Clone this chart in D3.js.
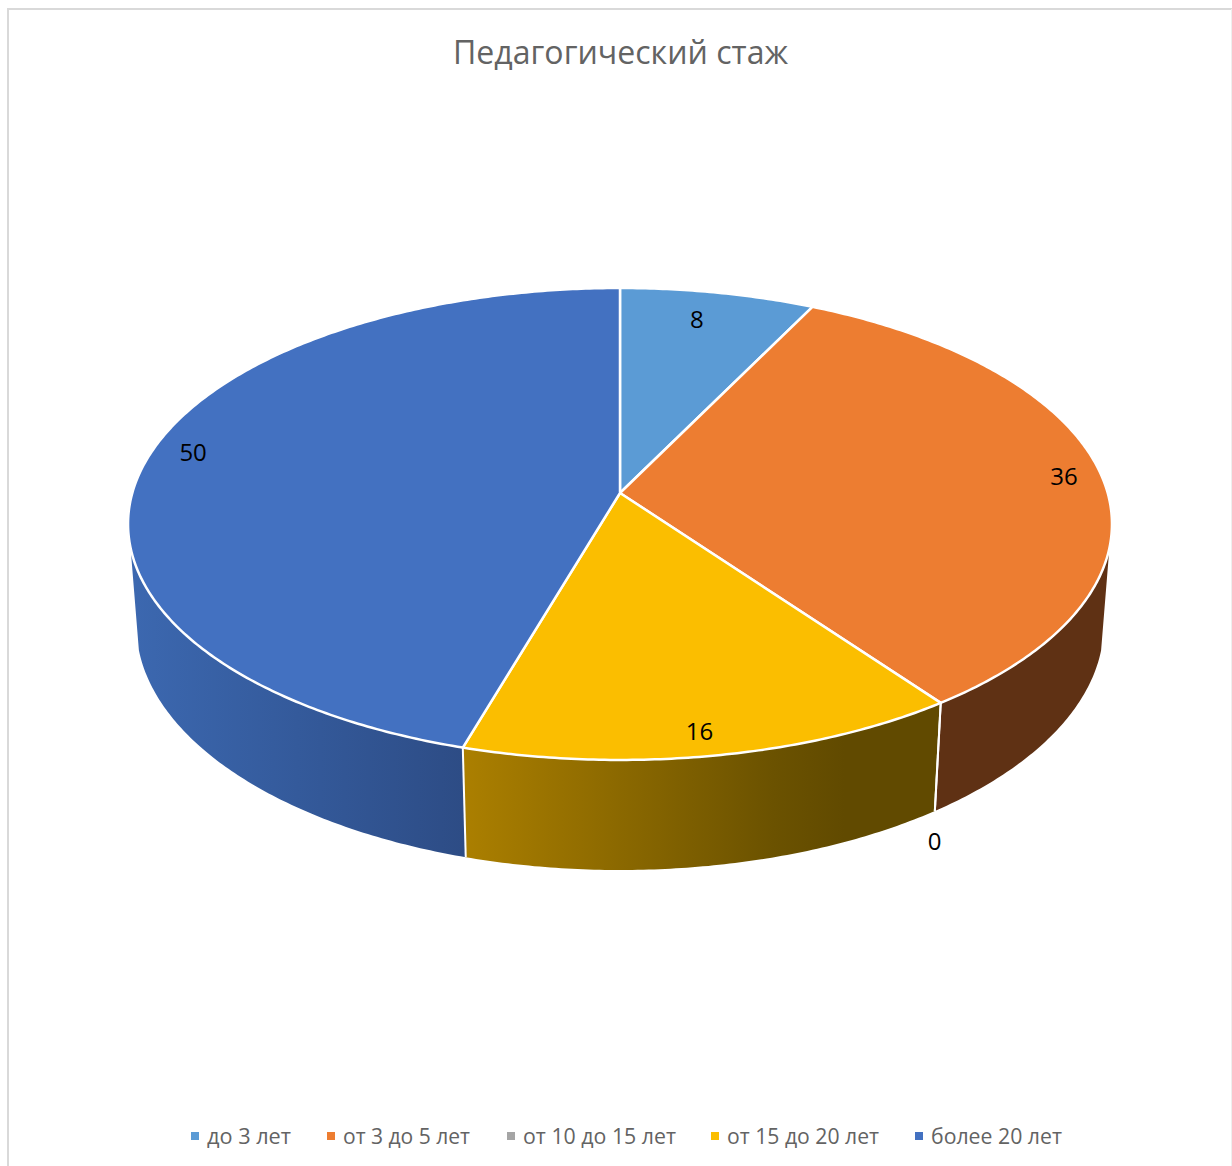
<!DOCTYPE html>
<html lang="ru">
<head>
<meta charset="utf-8">
<title>Педагогический стаж</title>
<script src="https://cdn.jsdelivr.net/npm/d3@7/dist/d3.min.js"></script>
<style>
    body { margin: 0; background: #fff; }
    svg { display: block; }
    text { font-family: "Open Sans", sans-serif; }
</style>
</head>
<body>
<svg id="chart" width="1232" height="1166"></svg>
<script>
var chartTitle = "Педагогический стаж";
var categories = ["до 3 лет", "от 3 до 5 лет", "от 10 до 15 лет", "от 15 до 20 лет", "более 20 лет"];
var values = [8, 36, 0, 16, 50];
var topColors = ["#5b9bd5", "#ed7d31", "#a5a5a5", "#fbbe00", "#4371c1"];

var svg = d3.select("#chart");
var defs = svg.append("defs");

// perspective of the disc, fitted by eye on the picture
var centerX = 620, centerY = 493;
var scaleU = 487.7, scaleV = 231.9;
var tilt = 0.1313;
var depthY = 101.9, depthW = 0.0167;
// the side wall only shows between these two angles
var frontStart = 103.3 * Math.PI / 180, frontEnd = 256.7 * Math.PI / 180;

function project(angle, z) {
    var u = Math.sin(angle), v = -Math.cos(angle);
    var d = 1 - tilt * v + depthW * z;
    return [centerX + scaleU * u / d, centerY + (scaleV * v + depthY * z) / d];
}

function arcPoints(a0, a1, z) {
    var n = Math.max(1, Math.ceil((a1 - a0) / 0.01));
    return d3.range(n + 1).map(function(i) {
        return project(a0 + (a1 - a0) * i / n, z);
    });
}

var line = d3.line();
var slices = d3.pie().sort(null).value(function(d) { return d; })(values);

// frame
svg.append("path").attr("d", "M8,1166V9H1232").attr("fill", "none").attr("stroke", "#d9d9d9").attr("stroke-width", 2);
svg.append("line").attr("x1", 1231.5).attr("x2", 1231.5).attr("y1", 9).attr("y2", 1166).attr("stroke", "#eeeeee").attr("stroke-width", 1);

// side shading
function sideGradient(id, x1, x2, stops) {
    var g = defs.append("linearGradient").attr("id", id)
        .attr("gradientUnits", "userSpaceOnUse")
        .attr("x1", x1).attr("x2", x2).attr("y1", 0).attr("y2", 0);
    stops.forEach(function(s) {
        g.append("stop").attr("offset", s[0]).attr("stop-color", s[1]);
    });
}
sideGradient("side3", 465, 940, [[0, "#ab7f00"], [0.65, "#6b5200"], [0.8, "#614a00"], [1, "#614a00"]]);
sideGradient("side4", 130, 465, [[0, "#3c68b0"], [0.5, "#345a9b"], [1, "#2d4c85"]]);
var sideFills = ["#3d6c96", "#5f3114", "#6b6b6b", "url(#side3)", "url(#side4)"];

var sides = svg.append("g");
slices.forEach(function(s, i) {
    var a0 = Math.max(s.startAngle, frontStart);
    var a1 = Math.min(s.endAngle, frontEnd);
    if (a1 <= a0) return;
    var pts = arcPoints(a0, a1, 0).concat(arcPoints(a0, a1, 1).reverse());
    sides.append("path").attr("d", line(pts) + "Z").attr("fill", sideFills[i]);
});
slices.forEach(function(s) {
    if (s.startAngle < frontStart || s.startAngle > frontEnd) return;
    sides.append("path")
        .attr("d", line([project(s.startAngle, 0), project(s.startAngle, 1)]))
        .attr("stroke", "#fff").attr("stroke-width", 2).attr("fill", "none");
});

// top face
var tops = svg.append("g");
slices.forEach(function(s, i) {
    if (s.value === 0) return;
    var pts = [[centerX, centerY]].concat(arcPoints(s.startAngle, s.endAngle, 0));
    tops.append("path").attr("d", line(pts) + "Z")
        .attr("fill", topColors[i])
        .attr("stroke", "#fff").attr("stroke-width", 2.5).attr("stroke-linejoin", "round");
});

// data labels, offset from the rim point at the middle of the slice
var labelNudge = [[-21, 27], [-36.5, 2.6], [-6, 138], [-16, -24.5], [47, -8.5]];
slices.forEach(function(s, i) {
    var p = project((s.startAngle + s.endAngle) / 2, 0);
    svg.append("text")
        .attr("x", p[0] + labelNudge[i][0])
        .attr("y", p[1] + labelNudge[i][1])
        .attr("dy", "0.36em")
        .attr("text-anchor", "middle")
        .attr("font-size", 24)
        .attr("fill", "#000")
        .text(s.value);
});

// title
svg.append("text")
    .attr("x", 620.5).attr("y", 64)
    .attr("text-anchor", "middle")
    .attr("font-size", 32)
    .attr("textLength", 335)
    .attr("lengthAdjust", "spacingAndGlyphs")
    .attr("fill", "#636363")
    .text(chartTitle);

// legend
var legendX = [191, 327, 507, 711, 915];
var legendWidth = [84, 127, 153, 152, 131];
var legend = svg.append("g");
categories.forEach(function(name, i) {
    legend.append("rect")
        .attr("x", legendX[i]).attr("y", 1132)
        .attr("width", 8).attr("height", 8)
        .attr("fill", topColors[i]);
    legend.append("text")
        .attr("x", legendX[i] + 16).attr("y", 1144)
        .attr("font-size", 21)
        .attr("textLength", legendWidth[i])
        .attr("lengthAdjust", "spacingAndGlyphs")
        .attr("fill", "#636363")
        .text(name);
});
</script>
</body>
</html>
